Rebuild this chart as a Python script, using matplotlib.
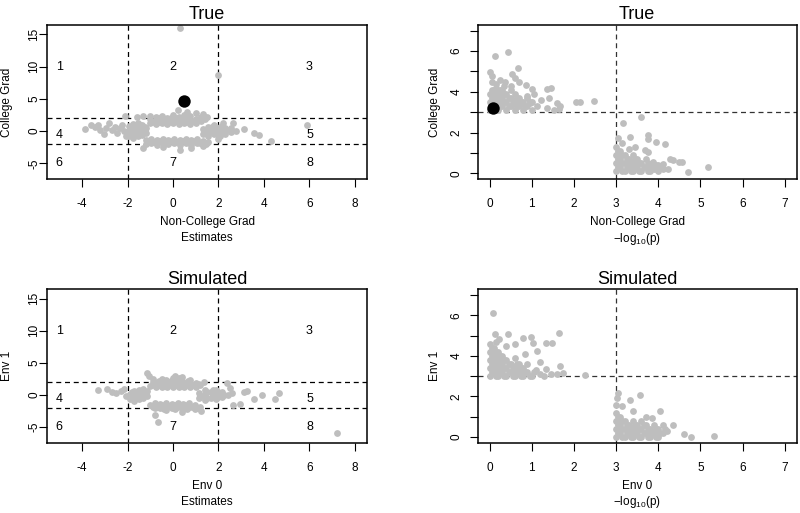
import matplotlib
matplotlib.use('Agg')
from matplotlib import pyplot as plt
import numpy as np

plt.rcParams['font.family'] = ['Liberation Sans', 'DejaVu Sans']
plt.rcParams['axes.unicode_minus'] = False

GRAY = '#BEBEBE'

# --- True: estimates (non-college grad vs college grad)
tl_x = [-3.85, -3.6, -3.45, -3.3, -3.2, -3.05, -2.95, -2.8, -2.7, -2.55, -2.45, -2.35, -2.25, -2.15, -2.1, -2.05,
        -1.95, -1.95, -1.95, -1.75, -1.75, -1.75, -1.75, -1.55, -1.55, -1.55, -1.55, -1.35, -1.35, -1.35, -1.2, -1.2,
        -1.85, -1.85, -1.65, -1.65, -1.65, -1.45, -1.45, -1.45, -1.25, -1.25,
        -1.6, -1.3, -1.0,
        -1.0, -1.0, -0.75, -0.75, -0.75, -0.5, -0.5, -0.5, -0.25, -0.25, -0.25, 0.0, 0.0, 0.0, 0.25, 0.25, 0.25,
        0.5, 0.5, 0.5, 0.75, 0.75, 0.75, 1.0, 1.0, 1.0, 1.25, 1.25, 1.3, 1.5, 0.2, 0.6,
        -0.85, -0.6, -0.6, -0.35, -0.35, -0.1, -0.1, 0.1, 0.1, 0.4, 0.4, 0.65, 0.65, 0.9, 1.15, 1.4,
        -1.2, -1.2, -1.3, -0.95, -0.95, -0.7, -0.7, -0.45, -0.45, -0.45, -0.2, -0.2, 0.05, 0.05, 0.3, 0.3, 0.3,
        0.55, 0.55, 0.8, 0.8, 0.8, 1.05, 1.05, 1.3, 1.3, 1.55,
        -1.05, -0.8, -0.55, -0.3, -0.05, 0.2, 0.45, 0.7, 0.95, 1.2, 1.45,
        1.3, 1.3, 1.55, 1.55, 1.55, 1.8, 1.8, 1.8, 2.05, 2.05, 2.05, 2.3, 2.3, 2.55, 2.55, 2.75, 2.65, 2.2, 3.1, 2.0,
        1.4, 1.7, 1.7, 1.95, 1.95, 2.2, 2.45, 2.15,
        3.55, 3.8, 4.3, 5.9, 2.0, 0.3]
tl_y = [0.3, 1.0, 0.6, 0.9, 0.2, -0.4, 0.5, 1.2, 0.1, 0.7, -0.3, 0.5, 1.0, 0.0, 2.4, -0.7,
        -0.8, 0.0, 0.8, -1.0, -0.3, 0.4, 1.1, -0.8, 0.0, 0.7, 1.3, -0.6, 0.1, 0.9, -0.3, 0.4,
        -0.4, 0.4, -0.6, 0.1, 0.8, -0.3, 0.4, 1.0, 0.0, 0.7,
        2.2, 2.3, 2.4,
        1.2, 1.8, 1.1, 1.6, 2.2, 1.2, 1.8, 2.4, 1.1, 1.6, 2.1, 1.2, 1.8, 2.5, 1.1, 1.6, 2.2,
        1.2, 1.8, 2.5, 1.1, 1.6, 2.3, 1.3, 1.9, 2.8, 1.5, 2.2, 2.7, 2.2, 3.2, 2.9,
        1.4, 1.4, 2.0, 1.4, 1.9, 1.4, 2.0, 1.5, 2.1, 1.4, 2.0, 1.4, 2.0, 1.6, 1.8, 1.9,
        -1.4, -2.0, -2.7, -1.2, -1.8, -1.4, -2.1, -1.2, -1.9, -2.5, -1.4, -2.0, -1.2, -1.8, -1.4, -2.1, -2.9,
        -1.2, -1.9, -1.4, -2.1, -2.6, -1.3, -1.9, -1.6, -2.3, -1.7,
        -1.6, -1.7, -1.6, -1.7, -1.6, -1.7, -1.6, -1.7, -1.6, -1.9, -2.0,
        -0.4, 0.3, -0.7, 0.0, 0.7, -0.4, 0.3, 1.0, -0.7, 0.0, 0.7, -0.4, 0.4, -0.2, 0.5, 0.0, 1.2, 1.3, 0.3, -1.2,
        -0.1, -0.1, 0.6, 0.3, -0.3, 0.0, 0.1, 0.7,
        -0.3, -0.6, -1.5, 1.0, 8.7, 16.0]
tl_hit = (0.5, 4.7)

# --- True: -log10(p)
tr_x = [0.0, 0.0, 0.0, 0.1, 0.1, 0.1, 0.2, 0.2, 0.2, 0.3, 0.3, 0.3, 0.4, 0.4, 0.4, 0.5, 0.5, 0.6, 0.6, 0.6,
        0.7, 0.7, 0.8, 0.8, 0.9, 0.9, 1.0, 1.0, 0.05, 0.15, 0.25, 0.35, 0.5,
        0.05, 0.05, 0.15, 0.15, 0.25, 0.25, 0.35, 0.35, 0.45, 0.45, 0.55, 0.65, 0.65, 0.75, 0.85, 0.95,
        0.05, 0.25, 0.15,
        0.12, 0.43, 0.67, 0.02, 0.06, 0.54, 0.6, 0.7, 0.87, 1.0, 1.05, 1.36, 1.45, 1.4, 1.23, 1.6, 1.68,
        2.04, 2.15, 2.48, 1.36, 1.12, 1.52, 1.64, 0.97, 0.5, 0.37, 0.9,
        3.0, 3.0, 3.0, 3.0, 3.1, 3.1, 3.1, 3.2, 3.2, 3.2, 3.3, 3.3, 3.3, 3.4, 3.4, 3.4, 3.5, 3.5,
        3.6, 3.6, 3.7, 3.7, 3.8, 3.8, 3.9, 4.0, 4.0, 4.1,
        3.05, 3.05, 3.05, 3.15, 3.15, 3.15, 3.25, 3.25, 3.35, 3.35, 3.45, 3.45, 3.55, 3.55, 3.65,
        3.75, 3.75, 3.85, 3.95,
        3.58, 3.17, 3.32, 3.76, 3.76, 3.94, 4.17, 3.44, 3.68, 3.76, 4.27, 4.35, 4.5, 4.57, 4.7, 5.17,
        4.11, 4.23, 3.87, 4.0, 3.05, 3.15]
tr_y = [3.1, 3.5, 3.9, 3.3, 3.7, 4.1, 3.1, 3.5, 3.9, 3.3, 3.7, 4.1, 3.1, 3.5, 3.9, 3.3, 3.7, 3.1, 3.5, 3.9,
        3.3, 3.7, 3.1, 3.5, 3.3, 3.7, 3.1, 3.5, 4.5, 4.4, 4.6, 4.3, 4.1,
        3.3, 3.7, 3.5, 3.9, 3.3, 3.7, 3.5, 3.9, 3.3, 3.7, 3.5, 3.3, 3.7, 3.5, 3.3, 3.5,
        4.1, 4.1, 4.2,
        5.78, 5.95, 5.18, 4.96, 4.8, 4.87, 4.7, 4.5, 4.35, 4.13, 3.9, 4.13, 4.2, 3.7, 3.62, 3.45, 3.28,
        3.52, 3.52, 3.57, 3.2, 3.3, 3.1, 3.18, 3.45, 4.3, 4.5, 3.8,
        0.1, 0.5, 0.9, 1.3, 0.3, 0.7, 1.1, 0.1, 0.5, 0.9, 0.3, 0.7, 1.2, 0.1, 0.5, 0.9, 0.3, 0.7,
        0.1, 0.5, 0.3, 0.7, 0.1, 0.4, 0.2, 0.1, 0.4, 0.2,
        0.3, 0.7, 1.1, 0.1, 0.5, 0.9, 0.3, 0.7, 0.1, 0.5, 0.3, 0.7, 0.1, 0.5, 0.3,
        0.1, 0.5, 0.3, 0.4,
        2.78, 2.48, 1.78, 1.87, 1.7, 1.54, 1.46, 1.28, 1.12, 1.05, 0.71, 0.63, 0.55, 0.57, 0.08, 0.3,
        0.47, 0.22, 0.55, 0.3, 1.75, 1.5]
tr_hit = (0.08, 3.2)

# --- Simulated: estimates (env 0 vs env 1)
bl_x = [-3.3, -2.9, -2.7, -2.5, -2.3, -2.15, -2.05,
        -1.9, -1.9, -1.7, -1.7, -1.7, -1.5, -1.5, -1.5, -1.3, -1.3, -1.3, -1.15, -1.15,
        -1.8, -1.8, -1.6, -1.6, -1.4, -1.4, -1.2,
        -1.14, -1.05, -0.9, -1.0, -0.9, -0.75, -0.75, -0.5, -0.5, -0.5, -0.25, -0.25, 0.0, 0.0, 0.0,
        0.25, 0.25, 0.25, 0.5, 0.5, 0.75, 0.75, 0.75, 1.0, 1.0, 1.2, 1.35, -0.3, 0.4, 0.1,
        -0.85, -0.6, -0.6, -0.35, -0.35, -0.1, -0.1, 0.15, 0.15, 0.4, 0.4, 0.65, 0.65, 0.9, 1.1,
        -1.0, -0.8, -0.8, -0.55, -0.55, -0.3, -0.3, -0.3, -0.05, -0.05, 0.2, 0.2, 0.45, 0.45, 0.4,
        0.7, 0.7, 0.95, 0.95, 1.2, 1.25, -0.8, -0.67,
        -0.9, -0.65, -0.4, -0.4, -0.15, 0.1, 0.1, 0.35, 0.6, 0.6, 0.85, 1.1,
        1.15, 1.15, 1.4, 1.4, 1.4, 1.65, 1.65, 1.9, 1.9, 1.9, 2.15, 2.15, 2.37, 2.5, 2.66, 2.96, 2.4, 2.6,
        1.25, 1.5, 1.5, 1.75, 1.75, 2.0, 2.0, 2.25,
        3.25, 3.55, 3.9, 4.5, 4.65, 7.2, 3.1]
bl_y = [0.7, 1.0, 0.5, 0.3, 0.6, 0.9, -0.2,
        -0.6, 0.2, -0.9, -0.2, 0.6, -0.7, 0.0, 0.8, -0.5, 0.3, 1.0, -0.2, 0.6,
        -0.4, 0.4, -0.5, 0.3, -0.3, 0.5, 0.0,
        3.45, 2.9, 2.5, 1.4, 2.0, 1.2, 1.8, 1.3, 1.9, 2.5, 1.2, 1.8, 1.3, 1.9, 2.6,
        1.2, 1.8, 2.6, 1.3, 1.9, 1.2, 1.8, 2.4, 1.3, 1.9, 1.6, 2.0, 2.4, 2.8, 2.9,
        1.6, 1.5, 2.1, 1.5, 2.0, 1.5, 2.2, 1.5, 2.2, 1.5, 2.2, 1.5, 2.1, 1.6, 1.7,
        -1.6, -1.2, -2.0, -1.4, -2.1, -1.2, -1.8, -2.4, -1.4, -2.0, -1.2, -1.8, -1.4, -2.1, -2.6,
        -1.3, -1.9, -1.5, -2.2, -1.8, -2.5, -3.1, -4.2,
        -1.8, -1.7, -1.6, -2.2, -1.7, -1.6, -2.2, -1.7, -1.6, -2.2, -1.8, -2.0,
        -0.5, 0.3, -0.8, 0.0, 0.7, -0.4, 0.4, -0.7, 0.0, 0.8, -0.3, 0.4, 1.9, 1.1, -1.6, -1.4, 0.0, 0.3,
        -0.1, -0.4, 0.4, 0.0, 0.7, -0.3, 0.4, 0.0,
        0.6, -0.6, -0.05, -0.6, 0.36, -5.9, 0.5]

# --- Simulated: -log10(p)
br_x = [0.0, 0.0, 0.0, 0.0, 0.0, 0.1, 0.1, 0.1, 0.1, 0.2, 0.2, 0.2, 0.2, 0.3, 0.3, 0.3, 0.4, 0.4, 0.4,
        0.5, 0.5, 0.6, 0.6, 0.6, 0.7, 0.7, 0.8, 0.8, 0.9, 0.9, 1.0, 1.1, 1.2, 1.3, 0.15,
        0.05, 0.05, 0.05, 0.05, 0.15, 0.15, 0.15, 0.15, 0.25, 0.25, 0.25, 0.35, 0.35, 0.35, 0.45, 0.45,
        0.55, 0.55, 0.65, 0.65, 0.75, 0.75, 0.85, 0.95, 1.05,
        0.08, 0.12, 0.43, 0.22, 0.8, 0.98, 1.64, 1.33, 1.47, 1.12, 1.02, 0.6, 1.67, 1.75, 2.26, 1.35, 1.2,
        0.4, 0.85, 1.45, 1.6,
        3.0, 3.0, 3.0, 3.0, 3.0, 3.1, 3.1, 3.1, 3.2, 3.2, 3.2, 3.3, 3.3, 3.4, 3.4, 3.4, 3.5, 3.5,
        3.6, 3.6, 3.6, 3.7, 3.7, 3.8, 3.8, 3.9, 3.9, 4.0, 4.0, 4.1, 4.1, 4.2,
        3.05, 3.05, 3.05, 3.15, 3.15, 3.15, 3.25, 3.25, 3.35, 3.35, 3.45, 3.45, 3.55, 3.55, 3.65, 3.65,
        3.75, 3.75, 3.85, 3.95, 3.95, 4.05, 4.15,
        3.05, 3.32, 3.56, 3.15, 4.05, 4.35, 4.62, 4.78, 5.33, 3.4, 3.7, 3.85, 3.03]
br_y = [3.0, 3.4, 3.8, 4.2, 4.6, 3.2, 3.6, 4.0, 4.4, 3.0, 3.4, 3.8, 4.2, 3.2, 3.6, 4.0, 3.0, 3.4, 3.8,
        3.2, 3.6, 3.0, 3.4, 3.9, 3.2, 3.6, 3.0, 3.4, 3.2, 3.6, 3.0, 3.3, 3.1, 3.0, 4.7,
        3.2, 3.6, 4.0, 4.4, 3.0, 3.4, 3.8, 4.2, 3.2, 3.6, 4.0, 3.0, 3.4, 3.8, 3.2, 3.6,
        3.0, 3.4, 3.2, 3.6, 3.0, 3.4, 3.2, 3.0, 3.2,
        6.1, 5.07, 5.1, 4.85, 4.9, 4.93, 5.15, 4.62, 4.65, 4.24, 4.65, 4.57, 3.5, 3.17, 3.06, 3.33, 3.7,
        4.5, 4.1, 3.1, 3.1,
        0.0, 0.4, 0.8, 1.2, 1.6, 0.2, 0.6, 1.0, 0.0, 0.4, 0.8, 0.2, 0.6, 0.0, 0.4, 0.8, 0.2, 0.6,
        0.0, 0.4, 0.8, 0.2, 0.6, 0.0, 0.4, 0.2, 0.6, 0.0, 0.4, 0.2, 0.6, 0.3,
        0.2, 0.6, 1.0, 0.0, 0.4, 0.8, 0.2, 0.6, 0.0, 0.4, 0.2, 0.6, 0.0, 0.4, 0.2, 0.6,
        0.0, 0.4, 0.2, 0.0, 0.4, 0.2, 0.4,
        2.15, 1.83, 2.05, 1.53, 1.28, 0.58, 0.13, 0.0, 0.05, 1.28, 1.0, 0.95, 1.9]

region_lbl = ['1', '2', '3', '4', '5', '6', '7', '8']
region_x = [-5, 0, 6, -5, 6, -5, 0, 6]
region_y = [10, 10, 10, -0.6, -0.6, -5, -5, -5]

fig = plt.figure(figsize=(8, 5.13), dpi=100)
W, H = 800, 513


def make_ax(x0, y0, x1, y1):
    return fig.add_axes([x0 / W, 1 - y1 / H, (x1 - x0) / W, (y1 - y0) / H])


def style(ax, title, ylab, xlab1, xlab2, ypad, lsp, ylpad):
    ax.set_title(title, fontsize=13, pad=4)
    ax.set_ylabel(ylab, fontsize=8.5, labelpad=ylpad)
    ax.set_xlabel(xlab1 + '\n' + xlab2, fontsize=8.5, labelpad=4, linespacing=lsp)
    ax.tick_params(which='both', direction='out', length=6, width=0.8, labelsize=8.5)
    ax.tick_params(axis='x', pad=8)
    ax.tick_params(axis='y', which='both', labelrotation=90, pad=ypad)
    for lab in ax.get_yticklabels():
        lab.set_va('center')
    for s in ax.spines.values():
        s.set_linewidth(1.1)


def est_panel(ax, xs, ys, title, ylab, xlab, hit=None):
    ax.scatter(xs, ys, s=24, c=GRAY, linewidths=0, zorder=2)
    if hit is not None:
        ax.scatter([hit[0]], [hit[1]], s=80, c='black', linewidths=0, zorder=3)
    for v in (-2, 2):
        ax.axvline(v, color='black', lw=0.9, ls=(0, (4, 3)), zorder=1)
        ax.axhline(v, color='black', lw=0.9, ls=(0, (4, 3)), zorder=1)
    for t, x, y in zip(region_lbl, region_x, region_y):
        ax.text(x, y, t, ha='center', va='center', fontsize=9)
    ax.set_xlim(-5.54, 8.53)
    ax.set_ylim(-7.43, 16.44)
    ax.set_xticks([-4, -2, 0, 2, 4, 6, 8])
    ax.set_yticks([-5, 0, 5, 10, 15])
    style(ax, title, ylab, xlab, 'Estimates', ypad=-1, lsp=1.5, ylpad=11)


def p_panel(ax, xs, ys, title, ylab, xlab, hit=None):
    ax.scatter(xs, ys, s=24, c=GRAY, linewidths=0, zorder=2)
    if hit is not None:
        ax.scatter([hit[0]], [hit[1]], s=80, c='black', linewidths=0, zorder=3)
    ax.axvline(3, color='#333333', lw=0.9, ls=(0, (4, 3)), zorder=1)
    ax.axhline(3, color='#333333', lw=0.9, ls=(0, (4, 3)), zorder=1)
    ax.set_xlim(-0.28, 7.28)
    ax.set_ylim(-0.28, 7.28)
    ax.set_xticks(range(8))
    ax.set_yticks([0, 2, 4, 6])
    ax.set_yticks([1, 3, 5, 7], minor=True)
    style(ax, title, ylab, xlab, r'$\mathregular{-log_{10}(p)}$', ypad=5, lsp=1.25, ylpad=7)


ax1 = make_ax(47, 25, 367, 179)
est_panel(ax1, tl_x, tl_y, 'True', 'College Grad', 'Non-College Grad', tl_hit)
ax2 = make_ax(477.7, 25, 796.7, 179)
p_panel(ax2, tr_x, tr_y, 'True', 'College Grad', 'Non-College Grad', tr_hit)
ax3 = make_ax(47, 289.3, 367, 442.7)
est_panel(ax3, bl_x, bl_y, 'Simulated', 'Env 1', 'Env 0')
ax4 = make_ax(477.7, 289.3, 796.7, 442.7)
p_panel(ax4, br_x, br_y, 'Simulated', 'Env 1', 'Env 0')

fig.savefig('out.png', dpi=100)
